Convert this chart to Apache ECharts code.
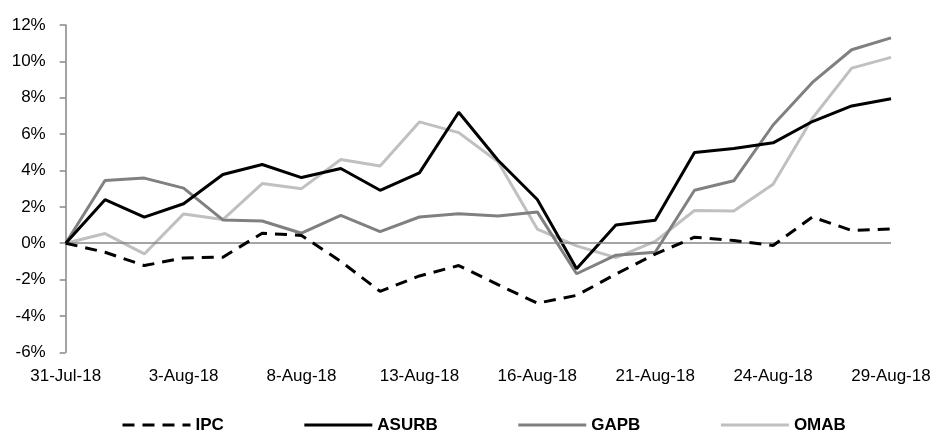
<!DOCTYPE html>
<html>
<head>
<meta charset="utf-8">
<script src="https://cdn.jsdelivr.net/npm/echarts@6/dist/echarts.min.js"></script>
<style>
html,body{margin:0;padding:0;background:#fff;}
#chart{width:935px;height:434px;}
</style>
</head>
<body>
<div id="chart"></div>
<script>
const dates = ['31-Jul-18','1-Aug-18','2-Aug-18','3-Aug-18','6-Aug-18','7-Aug-18','8-Aug-18','9-Aug-18','10-Aug-18','13-Aug-18','14-Aug-18','15-Aug-18','16-Aug-18','17-Aug-18','20-Aug-18','21-Aug-18','22-Aug-18','23-Aug-18','24-Aug-18','27-Aug-18','28-Aug-18','29-Aug-18'];
const ipc   = [0, -0.5, -1.23, -0.81, -0.77, 0.55, 0.43, -1.0, -2.65, -1.8, -1.23, -2.28, -3.3, -2.87, -1.7, -0.6, 0.33, 0.15, -0.13, 1.44, 0.7, 0.79];
const asurb = [0, 2.39, 1.43, 2.17, 3.78, 4.33, 3.61, 4.11, 2.91, 3.87, 7.2, 4.56, 2.4, -1.4, 1.0, 1.26, 4.99, 5.21, 5.52, 6.69, 7.55, 7.94];
const gapb  = [0, 3.45, 3.58, 3.03, 1.28, 1.22, 0.55, 1.53, 0.64, 1.44, 1.62, 1.49, 1.72, -1.68, -0.66, -0.5, 2.91, 3.43, 6.5, 8.84, 10.64, 11.29];
const omab  = [0, 0.53, -0.59, 1.61, 1.30, 3.28, 3.0, 4.6, 4.24, 6.67, 6.08, 4.48, 0.78, -0.15, -0.79, 0.1, 1.8, 1.77, 3.24, 6.87, 9.63, 10.22];

const FONT = '"Liberation Sans", Arial, sans-serif';
const chart = echarts.init(document.getElementById('chart'), null, {renderer: 'canvas'});
const lw = 3;
chart.setOption({
  animation: false,
  backgroundColor: '#ffffff',
  grid: {left: 65.7, right: 44, top: 25, bottom: 81.7, containLabel: false},
  legend: {
    top: 411.5, left: 116,
    itemWidth: 68, itemHeight: 14, itemGap: 79,
    itemStyle: {color: 'rgba(0,0,0,0)', borderWidth: 0, opacity: 0},
    lineStyle: {width: 3},
    textStyle: {fontFamily: FONT, fontSize: 17, fontWeight: 'bold', color: '#000'},
    data: ['IPC', 'ASURB', 'GAPB', 'OMAB']
  },
  xAxis: {
    type: 'category', data: dates, boundaryGap: false,
    axisLine: {show: false, onZero: false},
    axisTick: {show: false},
    axisLabel: {interval: 2, margin: 15.5, fontFamily: FONT, fontSize: 17, color: '#000'},
    splitLine: {show: false}
  },
  yAxis: {
    type: 'value', min: -6, max: 12, interval: 2,
    axisLine: {show: true, lineStyle: {color: '#868686', width: 1.5}},
    axisTick: {show: true, length: 6, lineStyle: {color: '#868686', width: 1.5}},
    axisLabel: {margin: 20, formatter: '{value}%', fontFamily: FONT, fontSize: 17, color: '#000'},
    splitLine: {show: false}
  },
  series: [
    {name: 'IPC', type: 'line', data: ipc, symbol: 'none', z: 5,
     lineStyle: {color: '#000', width: lw, type: [12, 8]}, itemStyle: {color: '#000'},
     markLine: {silent: true, symbol: 'none', label: {show: false}, animation: false,
       lineStyle: {color: '#868686', width: 1.5, type: 'solid'}, data: [{yAxis: 0}]}},
    {name: 'ASURB', type: 'line', data: asurb, symbol: 'none', z: 4,
     lineStyle: {color: '#000', width: lw}, itemStyle: {color: '#000'}},
    {name: 'GAPB', type: 'line', data: gapb, symbol: 'none', z: 3,
     lineStyle: {color: '#808080', width: lw}, itemStyle: {color: '#808080'}},
    {name: 'OMAB', type: 'line', data: omab, symbol: 'none', z: 2,
     lineStyle: {color: '#c0c0c0', width: lw}, itemStyle: {color: '#c0c0c0'}}
  ]
});
</script>
</body>
</html>
